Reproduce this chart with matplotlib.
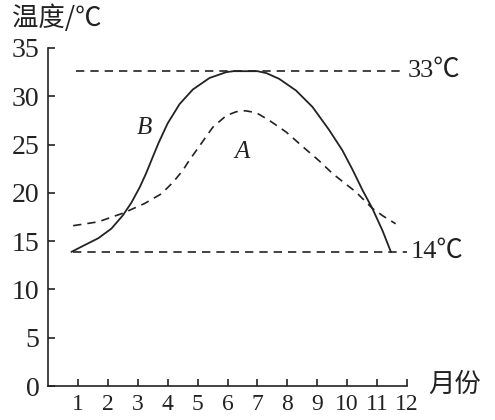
import matplotlib
matplotlib.use("Agg")
import matplotlib.pyplot as plt

# --- data ---
months = list(range(1, 13))
y_ticks = [0, 5, 10, 15, 20, 25, 30, 35]

# curve B (solid)
b_month = [0.79, 1.23, 1.68, 2.12, 2.51, 2.79, 3.07, 3.29, 3.5, 3.7, 4.0, 4.4,
           4.84, 5.4, 5.96, 6.2, 6.6, 7.0, 7.3, 7.73, 8.29, 8.84, 9.4, 9.84,
           10.18, 10.51, 10.84, 11.18, 11.46]
b_temp = [13.9, 14.6, 15.3, 16.3, 17.7, 19.0, 20.6, 22.1, 23.7, 25.2, 27.2, 29.2,
          30.7, 31.9, 32.5, 32.6, 32.6, 32.6, 32.4, 31.8, 30.6, 28.9, 26.5, 24.4,
          22.4, 20.3, 18.4, 16.1, 13.9]

# curve A (dashed)
a_month = [0.84, 1.68, 2.51, 3.23, 3.79, 4.18, 4.5, 4.73, 5.12, 5.51, 5.96, 6.29,
           6.6, 6.96, 7.4, 7.96, 8.51, 9.07, 9.51, 10.0, 10.29, 10.84, 11.2, 11.62]
a_temp = [16.6, 17.0, 17.9, 18.9, 19.9, 21.1, 22.3, 23.4, 25.1, 26.8, 28.0, 28.4,
          28.5, 28.3, 27.5, 26.3, 24.8, 23.3, 22.0, 20.8, 20.1, 18.4, 17.6, 16.8]

# reference levels
hi_level = 32.6
hi_span = [0.95, 11.85]
lo_level = 13.9
lo_span = [0.85, 12.0]

plt.rcParams["font.family"] = ["Liberation Serif", "Noto Sans CJK SC", "DejaVu Sans"]
cjk = ["Noto Sans CJK SC", "DejaVu Sans"]
ink = "#222222"
dash = (0, (5.0, 3.6))

fig = plt.figure(figsize=(4.95, 4.2), dpi=100)
ax = fig.add_axes([48 / 495, 1 - 386 / 420, (407 - 48) / 495, (386 - 48) / 420])

ax.plot(b_month, b_temp, color=ink, lw=1.3, solid_joinstyle="round")
ax.plot(a_month, a_temp, color=ink, lw=1.2, linestyle=dash)
ax.plot(hi_span, [hi_level, hi_level], color=ink, lw=1.2, linestyle=dash)
ax.plot(lo_span, [lo_level, lo_level], color=ink, lw=1.2, linestyle=dash)

ax.set_xlim(0, 12)
ax.set_ylim(0, 35)
for side in ("top", "right"):
    ax.spines[side].set_visible(False)
for side in ("left", "bottom"):
    ax.spines[side].set_linewidth(1.2)
    ax.spines[side].set_color(ink)

ax.set_xticks(months)
ax.set_yticks(y_ticks)
ax.tick_params(axis="both", direction="in", length=5, width=1.2, colors=ink)
ax.tick_params(axis="x", pad=6, labelsize=17)
ax.tick_params(axis="y", pad=6, labelsize=20)

ax.text(3.23, 26.7, "B", fontstyle="italic", fontsize=18,
        ha="center", va="center", color=ink)
ax.text(6.5, 24.2, "A", fontstyle="italic", fontsize=18,
        ha="center", va="center", color=ink)
ax.text(12.03, hi_level, "33℃", fontsize=19,
        ha="left", va="center", color=ink, clip_on=False)
ax.text(12.12, lo_level, "14℃", fontsize=19,
        ha="left", va="center", color=ink, clip_on=False)

fig.text(12 / 495, 1 - 4 / 420, "温度/℃", fontfamily=cjk, fontsize=19,
         ha="left", va="top", color=ink)
fig.text(455 / 495, 1 - 384 / 420, "月份", fontfamily=cjk, fontsize=19,
         ha="center", va="center", color=ink)

fig.savefig("out.png", dpi=100)
